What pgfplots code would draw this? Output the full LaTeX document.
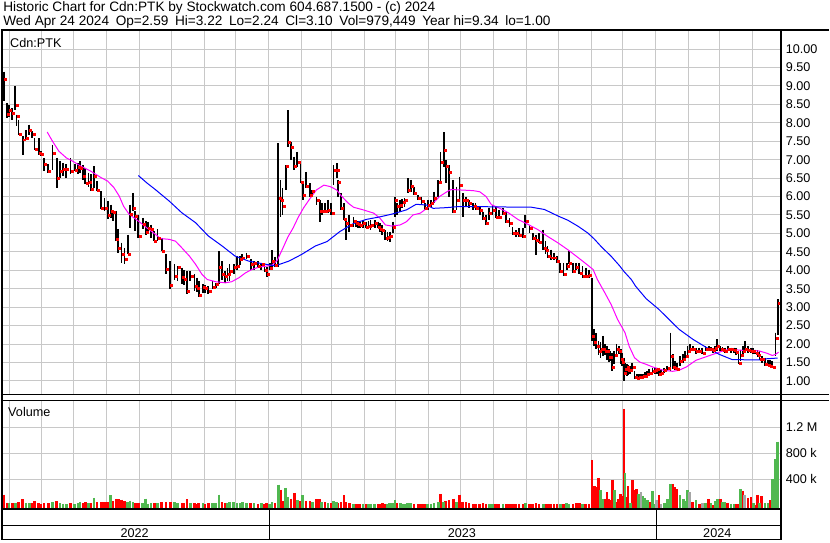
\documentclass[border=0pt]{standalone}
\usepackage{fontspec}
\setmainfont{Liberation Sans}
\usepackage{pgfplots}
\usepackage{pgfplotstable}
\pgfplotsset{compat=1.18}

\definecolor{gridgray}{RGB}{200,200,200}
\definecolor{volgreen}{RGB}{80,184,80}
\definecolor{volgray}{RGB}{165,165,165}
\definecolor{mablue}{RGB}{0,0,255}
\definecolor{mamag}{RGB}{255,0,255}

% daily bars: day (days since 2022-01-01), high, low, close, volume (k), flag 0=down 1=up 2=flat
\pgfplotstableread{
d h l c v f
115 9.39 8.58 9.19 163 0
118 8.54 8.13 8.22 38 0
120 8.49 8.17 8.35 30 1
123 8.40 8.08 8.26 25 0
126 9.00 8.35 8.47 35 1
127 8.22 7.90 8.19 20 0
129 8.08 7.68 7.68 40 0
133 7.63 7.14 7.54 88 0
136 7.81 7.54 7.59 30 1
139 7.95 7.68 7.81 35 1
142 7.77 7.59 7.70 25 0
144 7.59 7.27 7.29 63 0
148 7.59 7.14 7.18 30 0
150 7.23 7.09 7.16 20 0
153 7.05 6.69 6.87 35 0
157 6.87 6.64 6.69 25 0
161 7.41 6.73 7.18 45 1
165 7.05 6.24 6.50 60 0
168 6.96 6.51 6.69 25 1
171 6.90 6.55 6.75 20 1
174 6.87 6.51 6.73 20 1
178 7.05 6.60 6.68 30 0
182 6.87 6.69 6.70 15 1
185 6.90 6.62 6.80 25 1
187 6.96 6.64 6.78 50 1
190 6.85 6.45 6.55 30 0
192 6.78 6.33 6.37 40 0
195 6.65 6.25 6.40 25 1
197 6.60 6.15 6.19 35 0
200 6.82 6.24 6.55 113 1
203 6.42 6.15 6.17 45 0
207 6.15 5.65 5.69 50 0
210 5.97 5.60 5.67 40 0
213 5.87 5.38 5.50 45 0
216 5.78 5.42 5.60 150 1
218 5.60 5.33 5.57 60 0
221 5.60 4.79 4.83 95 0
223 5.11 4.48 4.59 90 0
226 4.75 4.21 4.43 85 0
229 4.61 4.16 4.30 60 0
232 4.97 4.43 4.43 40 1
234 5.78 5.15 5.51 70 1
237 6.10 5.60 5.69 45 1
239 5.60 5.06 5.47 30 0
242 5.51 4.88 4.93 35 0
246 5.42 5.11 5.24 25 1
249 5.33 4.97 5.02 98 1
251 5.30 5.00 5.15 20 1
254 5.24 4.88 5.11 30 1
257 5.06 4.79 4.79 35 0
260 5.11 4.79 4.88 30 1
264 4.88 4.52 4.52 50 0
268 4.43 3.89 4.02 50 0
272 4.25 3.48 3.60 45 0
276 4.16 3.75 3.85 40 1
279 4.11 3.71 4.07 30 1
283 4.07 3.62 3.80 35 0
285 4.00 3.60 3.75 25 0
288 3.98 3.35 3.44 88 0
291 3.98 3.71 3.84 30 1
295 3.89 3.44 3.57 35 0
297 3.80 3.40 3.50 20 0
299 3.71 3.27 3.33 25 0
303 3.62 3.39 3.55 30 1
305 3.60 3.38 3.50 20 0
308 3.57 3.35 3.44 25 0
312 3.71 3.48 3.55 30 1
315 3.66 3.53 3.62 25 1
318 4.52 3.62 4.07 163 1
321 4.25 3.75 3.89 45 0
324 3.98 3.66 3.84 35 0
326 4.05 3.70 3.90 25 1
328 4.16 3.71 3.98 50 1
332 4.16 3.89 4.07 40 1
335 4.39 4.02 4.10 30 1
338 4.40 4.15 4.30 25 1
340 4.43 4.25 4.34 45 1
344 4.48 4.30 4.39 30 1
348 4.30 4.02 4.16 25 0
351 4.25 4.02 4.20 30 1
355 4.25 4.07 4.11 20 0
358 4.20 4.02 4.16 25 1
361 4.15 3.95 4.00 20 0
363 4.10 3.83 3.88 30 0
366 4.19 4.01 4.06 20 1
368 4.55 4.10 4.24 40 1
371 4.37 4.10 4.15 35 0
374 7.44 4.10 5.95 314 1
376 6.45 5.45 5.91 239 0
378 6.22 5.50 5.73 60 0
381 6.85 6.18 6.81 264 1
383 8.34 7.35 7.48 120 1
386 7.48 6.99 7.35 100 0
389 7.08 6.72 6.81 188 0
392 7.21 6.81 6.94 80 1
395 6.90 6.36 6.40 70 0
397 6.36 5.91 6.04 148 1
400 6.67 6.22 6.27 63 0
404 6.36 6.00 6.04 60 0
406 6.18 6.00 6.14 40 1
410 6.00 5.77 5.91 88 0
413 5.91 5.32 5.59 88 0
415 5.82 5.50 5.59 45 1
418 5.82 5.55 5.59 40 0
421 5.91 5.55 5.64 30 1
424 5.82 5.50 5.55 35 0
426 6.85 6.31 6.72 60 1
429 6.90 6.49 6.72 40 1
430 6.45 6.00 6.40 35 0
433 6.09 5.64 5.68 40 0
436 5.82 5.36 5.38 148 0
438 5.36 4.82 5.27 40 0
441 5.50 5.05 5.23 25 0
445 5.45 5.18 5.32 20 1
447 5.36 5.18 5.27 15 0
449 5.34 5.16 5.25 15 0
451 5.32 5.14 5.23 15 0
454 5.36 5.14 5.27 20 1
457 5.32 5.14 5.18 15 0
459 5.34 5.12 5.20 10 1
461 5.36 5.09 5.23 20 1
465 5.36 5.14 5.27 15 1
468 5.32 5.14 5.16 20 0
470 5.28 5.05 5.12 15 0
472 5.23 4.96 5.09 25 0
475 5.09 4.82 4.87 20 0
477 5.05 4.80 4.90 15 1
479 5.05 4.78 4.91 25 1
482 5.32 5.00 5.18 30 1
484 6.00 5.45 5.91 73 1
486 5.82 5.50 5.73 30 0
489 5.91 5.59 5.77 25 1
491 5.93 5.68 5.85 15 1
493 5.95 5.73 5.91 20 1
496 6.49 6.09 6.18 35 1
499 6.45 6.13 6.27 25 1
502 6.27 6.04 6.09 20 0
506 6.04 5.91 5.95 15 0
509 6.00 5.77 5.86 20 0
512 5.82 5.64 5.68 15 0
515 5.91 5.64 5.77 20 1
518 5.91 5.73 5.82 20 1
521 6.13 5.82 5.95 25 1
525 6.45 6.00 6.40 40 1
527 7.21 6.36 6.94 173 0
530 7.75 6.81 7.26 50 1
532 6.99 6.36 6.81 65 0
535 6.85 6.00 6.67 75 0
539 6.45 5.55 5.59 98 0
542 6.27 5.64 5.91 40 1
545 6.54 5.91 6.31 163 0
548 6.09 5.45 5.91 50 0
551 6.00 5.73 5.91 45 0
554 5.91 5.68 5.82 25 0
558 5.82 5.64 5.75 20 0
560 5.82 5.64 5.68 15 0
564 5.73 5.50 5.64 20 0
567 5.59 5.36 5.41 25 0
570 5.50 5.23 5.27 20 0
573 5.68 5.36 5.55 20 1
576 5.77 5.50 5.64 15 1
579 5.73 5.41 5.45 20 0
582 5.64 5.41 5.45 15 0
586 5.68 5.50 5.55 15 1
589 5.59 5.27 5.32 20 0
592 5.41 5.18 5.27 15 0
595 5.18 4.96 5.00 20 0
598 5.09 4.91 5.00 15 0
601 5.14 4.91 4.96 20 0
605 5.14 4.87 4.91 15 0
607 5.50 5.14 5.32 25 1
611 5.23 5.00 5.14 20 0
614 5.00 4.82 4.87 15 0
617 4.96 4.42 4.82 25 0
620 5.00 4.73 4.75 15 0
624 5.10 4.56 4.61 20 1
626 4.80 4.45 4.55 15 0
628 4.65 4.34 4.38 20 0
631 4.56 4.29 4.34 15 0
634 4.47 4.29 4.34 15 0
637 4.38 4.20 4.25 20 0
640 4.20 3.93 3.98 20 1
643 4.20 3.84 3.89 15 0
646 4.20 4.02 4.11 25 1
648 4.52 4.16 4.20 15 1
652 4.20 3.93 3.98 20 0
655 4.20 4.02 4.07 25 0
658 4.20 3.89 3.93 25 0
661 4.11 3.80 3.84 20 1
664 4.07 3.80 3.84 10 0
667 4.02 3.80 3.86 15 0
670 3.80 2.08 2.22 697 0
672 2.40 1.95 2.05 292 0
674 2.30 1.86 1.95 277 0
676 2.08 1.70 1.80 420 0
678 2.05 1.63 1.86 226 1
680 2.22 1.68 1.86 87 1
682 2.00 1.70 1.80 97 0
684 1.95 1.58 1.81 200 0
686 1.86 1.50 1.63 97 0
687 1.80 1.55 1.65 80 0
689 1.77 1.27 1.36 390 0
691 1.80 1.45 1.70 236 1
693 1.99 1.72 1.86 46 0
695 1.95 1.72 1.81 97 0
697 1.86 1.45 1.58 174 0
698 1.75 1.40 1.50 138 0
700 1.63 1.00 1.20 1482 0
701 1.49 1.22 1.31 497 1
703 1.45 1.13 1.36 123 0
704 1.42 1.15 1.30 287 0
706 1.40 1.20 1.30 36 1
708 1.49 1.27 1.38 380 0
710 1.27 1.04 1.09 226 0
712 1.18 1.04 1.06 241 0
714 1.18 1.04 1.09 174 1
716 1.18 1.04 1.09 200 2
718 1.18 1.06 1.13 138 1
720 1.24 1.09 1.13 113 1
722 1.26 1.12 1.18 72 1
724 1.31 1.18 1.22 51 0
727 1.36 1.18 1.27 215 1
729 1.36 1.20 1.30 20 1
731 1.36 1.18 1.31 82 2
733 1.36 1.13 1.18 159 0
735 1.31 1.18 1.22 15 2
738 1.35 1.22 1.28 25 1
741 1.40 1.27 1.33 97 1
744 2.31 1.27 1.67 328 1
746 1.72 1.31 1.36 328 0
748 1.55 1.30 1.35 277 0
750 1.49 1.27 1.31 241 0
753 1.67 1.40 1.54 149 1
756 1.72 1.49 1.58 97 1
758 1.81 1.58 1.67 62 1
760 1.95 1.70 1.80 226 1
762 1.99 1.76 1.85 200 2
765 1.94 1.81 1.85 40 0
768 1.90 1.72 1.81 72 1
771 1.90 1.77 1.81 20 0
774 1.90 1.72 1.76 25 2
777 1.94 1.81 1.85 35 1
780 1.94 1.81 1.85 97 0
782 1.92 1.80 1.86 30 1
784 1.90 1.77 1.83 5 0
786 1.95 1.80 1.88 60 1
788 2.13 1.81 1.94 97 1
791 1.94 1.81 1.85 97 0
793 1.92 1.80 1.84 50 1
795 1.90 1.77 1.81 45 1
798 1.94 1.81 1.85 35 0
801 1.90 1.77 1.85 20 1
804 1.90 1.77 1.83 20 1
806 1.88 1.70 1.78 15 0
808 1.76 1.47 1.49 10 0
810 1.85 1.55 1.70 241 1
812 1.95 1.72 1.80 210 0
814 2.08 1.76 1.85 159 2
817 1.94 1.76 1.83 113 0
820 1.90 1.75 1.81 123 0
822 1.88 1.74 1.80 30 1
824 1.85 1.72 1.76 5 0
826 1.83 1.65 1.70 159 0
828 1.81 1.58 1.60 30 1
830 1.67 1.49 1.58 133 0
833 1.63 1.40 1.45 30 1
836 1.58 1.40 1.42 30 1
838 1.56 1.38 1.40 72 0
840 1.54 1.36 1.38 405 1
843 2.31 1.67 2.17 713 1
845 3.22 2.24 3.10 979 1
}\bars

% short moving average (magenta)
\pgfplotstableread{
d p
156 7.75
161 7.50
167 7.23
174 7.05
180 6.96
188 6.82
197 6.69
207 6.51
213 6.42
219 6.24
224 6.01
228 5.74
233 5.53
238 5.42
244 5.29
250 5.15
257 5.00
263 4.86
271 4.84
277 4.79
283 4.61
290 4.39
296 4.16
302 3.89
307 3.75
315 3.69
324 3.66
330 3.69
337 3.80
343 3.93
349 4.02
356 4.09
362 4.11
368 4.14
373 4.27
378 4.58
383 4.90
388 5.15
393 5.45
398 5.70
404 5.95
410 6.18
417 6.31
423 6.27
429 6.18
434 6.00
440 5.82
445 5.71
454 5.64
464 5.55
470 5.41
475 5.23
481 5.20
489 5.23
495 5.32
501 5.50
508 5.55
514 5.68
520 5.82
526 6.00
533 6.13
537 6.19
545 6.18
558 6.16
564 6.13
570 6.00
575 5.78
583 5.68
591 5.56
600 5.38
610 5.24
619 5.10
628 4.92
638 4.74
647 4.56
657 4.34
665 4.16
671 4.02
675 3.75
682 3.39
688 3.07
694 2.67
701 2.31
705 1.94
710 1.63
715 1.51
721 1.45
727 1.38
737 1.29
746 1.26
752 1.29
759 1.38
768 1.56
777 1.65
787 1.75
796 1.84
802 1.85
812 1.83
821 1.83
828 1.81
835 1.75
840 1.69
843 1.72
846 1.78
}\mashort

% long moving average (blue)
\pgfplotstableread{
d p
242 6.57
250 6.37
258 6.19
263 6.07
271 5.88
283 5.56
296 5.29
308 4.93
321 4.66
333 4.39
346 4.25
359 4.18
371 4.12
384 4.25
396 4.43
409 4.66
420 4.78
432 5.05
445 5.27
457 5.38
470 5.45
482 5.53
495 5.64
504 5.79
514 5.77
520 5.68
533 5.70
545 5.73
562 5.73
577 5.72
613 5.71
625 5.65
638 5.47
647 5.36
657 5.19
666 5.01
672 4.85
679 4.63
688 4.38
696 4.12
700 3.97
707 3.75
711 3.57
721 3.23
733 2.94
752 2.40
765 2.13
777 1.92
790 1.72
802 1.58
821 1.57
831 1.57
834 1.60
845 1.62
}\malong

\begin{document}
\begin{tikzpicture}[font=\fontsize{9.5}{11}\selectfont]
\fill[white] (0pt,0pt) rectangle (622.5pt,407.25pt);

\pgfplotsset{
  swgrid/.style={
    scale only axis, width=585pt, anchor=south west,
    xmin=114.3, xmax=848.3,
    axis line style={draw=none}, tick style={draw=none},
    xtick={120,151,181,212,243,273,304,334,365,396,424,455,485,516,546,577,608,638,669,699,730,761,790,821},
    xticklabels={},
    yticklabel pos=right,
    yticklabel style={anchor=west, font=\fontsize{9.5}{11}\selectfont},
    grid=major, major grid style={draw=gridgray, line width=0.75pt},
  },
  hl/.style={draw=none, mark=none, forget plot,
    error bars/y dir=minus, error bars/y explicit, error bars/error mark=none},
}

% price panel
\begin{axis}[swgrid, at={(1.5pt,110.25pt)}, height=274.5pt,
  ymin=0.617, ymax=10.519,
  ytick={1,1.5,2,2.5,3,3.5,4,4.5,5,5.5,6,6.5,7,7.5,8,8.5,9,9.5,10},
  yticklabels={1.00,1.50,2.00,2.50,3.00,3.50,4.00,4.50,5.00,5.50,6.00,6.50,7.00,7.50,8.00,8.50,9.00,9.50,10.00},
]
\addplot[hl, error bars/error bar style={draw=black, line width=1.35pt}]
  table[x=d, y=h, y error minus expr=\thisrow{h}-\thisrow{l}] {\bars};
\addplot[only marks, mark=square*, mark size=0.75pt, red, mark options={xshift=1.1pt}]
  table[x=d, y=c] {\bars};
\addplot[mamag, line width=0.75pt] table[x=d, y=p] {\mashort};
\addplot[mablue, line width=0.75pt] table[x=d, y=p] {\malong};
\end{axis}

% volume panel
\begin{axis}[swgrid, at={(1.5pt,24.75pt)}, height=81.75pt,
  ymin=-57, ymax=1620,
  ytick={400,800,1200}, yticklabels={400 k,800 k,1.2 M},
]
\addplot[restrict expr to domain={\thisrow{f}}{0:0}, hl,
  error bars/error bar style={draw=red, line width=2pt}]
  table[x=d, y=v, y error minus expr=\thisrow{v}+80] {\bars};
\addplot[restrict expr to domain={\thisrow{f}}{1:1}, hl,
  error bars/error bar style={draw=volgreen, line width=2pt}]
  table[x=d, y=v, y error minus expr=\thisrow{v}+80] {\bars};
\addplot[restrict expr to domain={\thisrow{f}}{2:2}, hl,
  error bars/error bar style={draw=volgray, line width=2pt}]
  table[x=d, y=v, y error minus expr=\thisrow{v}+80] {\bars};
\end{axis}

\begin{scope}[x=0.75pt, y=0.75pt]
% frame
\draw[line width=1.5pt] (0,513) -- (830,513);
\draw[line width=1.5pt] (1,513) -- (1,1.5);
\draw[line width=1.5pt] (782,513) -- (782,1.5);
\draw[line width=1.1pt] (0,147.5) -- (830,147.5);
\draw[line width=1.1pt] (0,141.5) -- (830,141.5);
\draw[line width=1.1pt] (0,33) -- (782,33);
\draw[line width=1.1pt] (0,16) -- (782,16);
\draw[line width=1.1pt] (0,2) -- (782,2);
\draw[line width=1.1pt] (269,33) -- (269,2);
\draw[line width=1.1pt] (657,33) -- (657,2);

% texts
\node[anchor=west, inner sep=0, font=\fontsize{10.25}{11}\selectfont] at (2,535)
  {Historic Chart for Cdn:PTK by Stockwatch.com 604.687.1500 - (c) 2024};
\node[anchor=west, inner sep=0, font=\fontsize{10.25}{11}\selectfont] at (2,520.5)
  {Wed Apr 24 2024\hspace{5pt}Op=2.59\hspace{5pt}Hi=3.22\hspace{5pt}Lo=2.24\hspace{5pt}Cl=3.10\hspace{5pt}Vol=979,449\hspace{5pt}Year hi=9.34\hspace{5pt}lo=1.00};
\node[anchor=west, inner sep=0] at (9,500) {Cdn:PTK};
\node[anchor=west, inner sep=0] at (7,130) {Volume};
\node at (134,8.5) {2022};
\node at (462,8.5) {2023};
\node at (718,8.5) {2024};
\end{scope}
\end{tikzpicture}
\end{document}
